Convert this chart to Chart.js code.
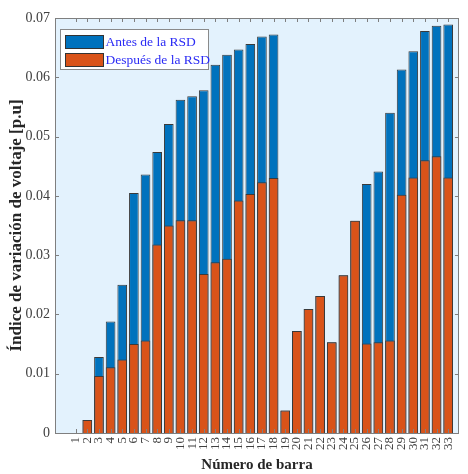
<!DOCTYPE html>
<html>
<head>
<meta charset="utf-8">
<script src="https://cdn.jsdelivr.net/npm/chart.js@4"></script>
<style>
  html, body { margin: 0; padding: 0; background: #fff; }
  #wrap { width: 468px; height: 474px; }
</style>
</head>
<body>
<div id="wrap"><canvas id="chart" width="468" height="474"></canvas></div>
<script>
// Número de barra (tick labels on x)
const barras = [1, 2, 3, 4, 5, 6, 7, 8, 9, 10, 11, 12, 13, 14, 15, 16, 17,
                18, 19, 20, 21, 22, 23, 24, 25, 26, 27, 28, 29, 30, 31, 32, 33];

// Índice de variación de voltaje antes de la RSD [p.u]
const antes = [0, 0.0022, 0.0128, 0.0188, 0.0250, 0.0405, 0.0436, 0.0474, 0.0521,
               0.0562, 0.0568, 0.0578, 0.0621, 0.0638, 0.0647, 0.0656, 0.0669, 0.0672,
               0.0038, 0.0172, 0.0209, 0.0231, 0.0153, 0.0266, 0.0358, 0.0420, 0.0441,
               0.0540, 0.0613, 0.0644, 0.0678, 0.0687, 0.0689];

// Después de la RSD [p.u]
const despues = [0, 0.0022, 0.0096, 0.0111, 0.0124, 0.0150, 0.0156, 0.0318, 0.0350,
                 0.0359, 0.0359, 0.0268, 0.0288, 0.0294, 0.0392, 0.0403, 0.0423, 0.0430,
                 0.0038, 0.0172, 0.0209, 0.0231, 0.0153, 0.0266, 0.0358, 0.0151, 0.0153,
                 0.0156, 0.0402, 0.0431, 0.0460, 0.0467, 0.0431];

// y axis ticks
const yTicks = [0, 0.01, 0.02, 0.03, 0.04, 0.05, 0.06, 0.07];

const serif = "'Liberation Serif', 'Times New Roman', serif";
const axisGray = '#7f7f7f';

// plot background, box, inward ticks and the legend inside the axes
const axesPlugin = {
    id: 'axesPlugin',
    beforeDatasetsDraw(chart) {
        const { ctx, chartArea: a } = chart;
        ctx.save();
        ctx.fillStyle = '#e3f2fd';
        ctx.fillRect(a.left, a.top, a.right - a.left, a.bottom - a.top);
        ctx.restore();
    },
    afterDatasetsDraw(chart) {
        const { ctx, chartArea: a, scales } = chart;
        const x = scales.x, y = scales.y;
        const t = 4;
        ctx.save();
        ctx.strokeStyle = axisGray;
        ctx.lineWidth = 1;
        ctx.beginPath();
        barras.forEach(b => {
            const px = Math.round(x.getPixelForValue(b)) + 0.5;
            ctx.moveTo(px, a.top); ctx.lineTo(px, a.top + t);
            ctx.moveTo(px, a.bottom); ctx.lineTo(px, a.bottom - t);
        });
        yTicks.forEach(v => {
            const py = Math.round(y.getPixelForValue(v)) + 0.5;
            ctx.moveTo(a.left, py); ctx.lineTo(a.left + t, py);
            ctx.moveTo(a.right, py); ctx.lineTo(a.right - t, py);
        });
        ctx.stroke();
        ctx.strokeRect(Math.round(a.left) + 0.5, Math.round(a.top) + 0.5,
                       Math.round(a.right - a.left) - 1, Math.round(a.bottom - a.top));

        // legend
        const lx = a.left + 5.5, ly = a.top + 11.5, lw = 148, lh = 40;
        ctx.fillStyle = '#ffffff';
        ctx.fillRect(lx, ly, lw, lh);
        ctx.strokeStyle = '#8a8a8a';
        ctx.strokeRect(lx, ly, lw, lh);
        ctx.font = '13.5px ' + serif;
        ctx.textBaseline = 'middle';
        chart.data.datasets.forEach((ds, i) => {
            const sy = ly + 6 + i * 18;
            ctx.fillStyle = ds.backgroundColor;
            ctx.fillRect(lx + 5, sy, 38, 13);
            ctx.strokeStyle = '#333';
            ctx.strokeRect(lx + 5, sy, 38, 13);
            ctx.fillStyle = '#2b2bf5';
            ctx.fillText(ds.label, lx + 45, sy + 7);
        });
        ctx.restore();
    }
};

const ctx = document.getElementById('chart').getContext('2d');
new Chart(ctx, {
    type: 'bar',
    data: {
        datasets: [
            {
                label: 'Antes de la RSD',
                data: barras.map((b, i) => ({ x: b, y: antes[i] })),
                backgroundColor: '#0072bd',
                borderColor: '#3a3a3a',
                borderWidth: 1,
                order: 2
            },
            {
                label: 'Después de la RSD',
                data: barras.map((b, i) => ({ x: b, y: despues[i] })),
                backgroundColor: '#d95319',
                borderColor: '#3a3a3a',
                borderWidth: 1,
                order: 1
            }
        ]
    },
    options: {
        responsive: false,
        animation: false,
        devicePixelRatio: 1,
        grouped: false,
        categoryPercentage: 0.83,
        barPercentage: 1,
        layout: { padding: { top: 18, right: 8, left: 0, bottom: 0 } },
        plugins: {
            legend: { display: false },
            tooltip: { enabled: false }
        },
        scales: {
            x: {
                type: 'linear',
                min: -0.25,
                max: 33.4,
                grid: { display: false, drawTicks: false },
                border: { display: false },
                afterBuildTicks: s => { s.ticks = barras.map(v => ({ value: v })); },
                afterFit: s => { s.height = 41; },
                ticks: {
                    autoSkip: false,
                    minRotation: 90,
                    maxRotation: 90,
                    padding: 4,
                    color: '#404040',
                    font: { family: serif, size: 13 },
                    callback: v => String(v)
                },
                title: {
                    display: true,
                    text: 'Número de barra',
                    color: '#262626',
                    font: { family: serif, size: 15, weight: 'bold' },
                    padding: { top: 0, bottom: 0 }
                }
            },
            y: {
                min: 0,
                max: 0.07,
                grid: { display: false, drawTicks: false },
                border: { display: false },
                afterBuildTicks: s => { s.ticks = yTicks.map(v => ({ value: v })); },
                afterFit: s => { s.width = 55; },
                ticks: {
                    padding: 5,
                    color: '#404040',
                    font: { family: serif, size: 14 },
                    callback: v => (v === 0 ? '0' : v.toFixed(2))
                },
                title: {
                    display: true,
                    text: 'Índice de variación de voltaje [p.u]',
                    color: '#262626',
                    font: { family: serif, size: 17, weight: 'bold' },
                    padding: { top: 6, bottom: 0 }
                }
            }
        }
    },
    plugins: [axesPlugin]
});
</script>
</body>
</html>
